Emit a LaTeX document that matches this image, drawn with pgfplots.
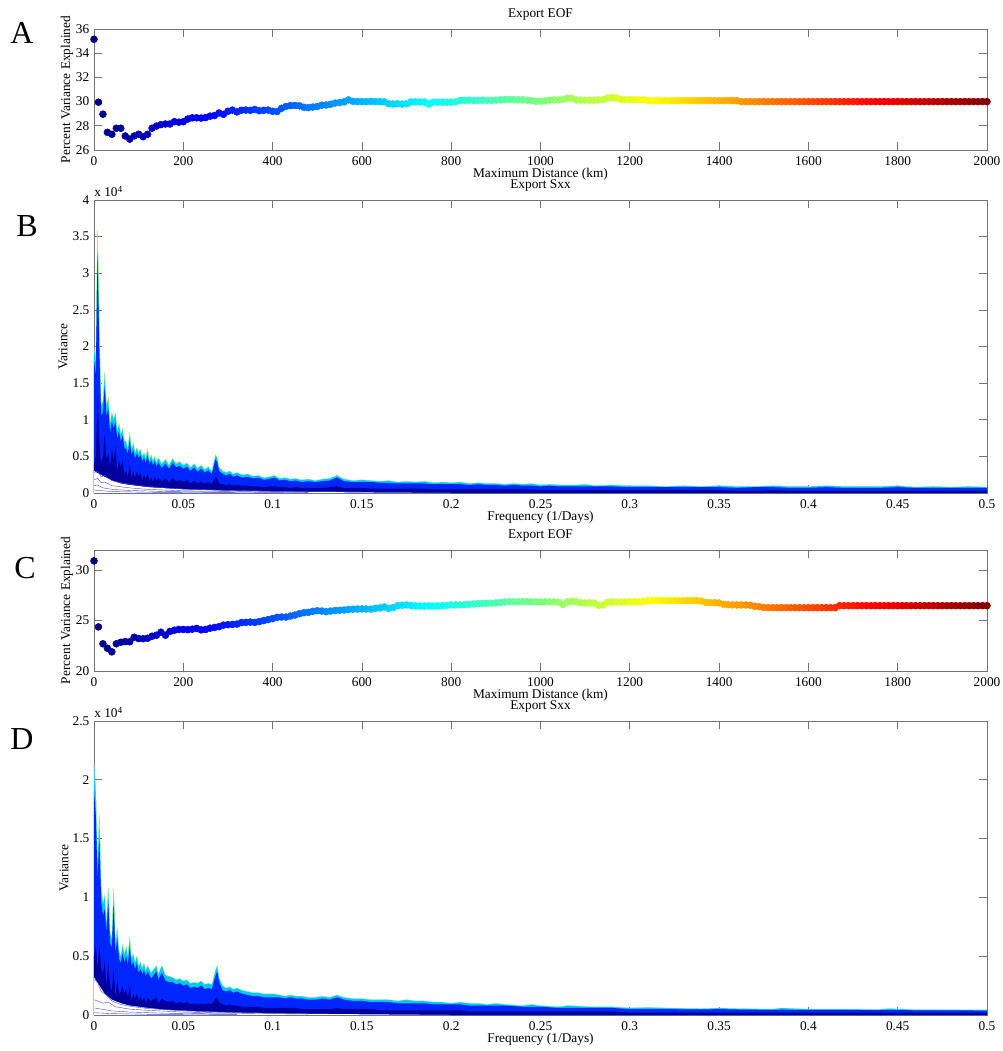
\documentclass[border=0pt]{standalone}
\usepackage{fontspec}
\setmainfont{Liberation Serif}
\usepackage{pgfplots}
\usepackage{pgfplotstable}
\pgfplotsset{compat=1.18}

\definecolor{axgray}{gray}{0.45}
\definecolor{rimcyan}{rgb}{0,0.78,1}
\definecolor{rimline}{rgb}{0.55,0.95,0.45}
\definecolor{bodyblue}{rgb}{0,0.15,1}
\definecolor{deepblue}{rgb}{0,0,0.62}
\definecolor{lineblue}{rgb}{0.3,0.3,0.75}

\newcommand{\tfont}{\fontsize{10}{12}\selectfont}

\pgfplotsset{
  matlab/.style={
    scale only axis, width=669.75pt,
    axis line style={axgray}, tick style={axgray, line width=0.5pt},
    major tick length=6pt, tick align=inside,
    tick label style={font=\tfont, black},
    /pgf/number format/assume math mode=true,
    /pgf/number format/1000 sep={},
    label style={font=\tfont},
    every axis title/.style={font=\tfont, at={(0.5,1)}, anchor=center, yshift=10.75pt},
    xlabel style={at={([yshift=-18pt]axis description cs:0.5,0)}, anchor=center},
    xticklabel style={yshift=-1.5pt},
    scaled ticks=false,
  },
  eof/.style={matlab, height=90.75pt, xmin=0, xmax=2000,
    xtick={0,200,...,2000}, clip=false,
    colormap/jet, point meta min=0, point meta max=2000,
    title={Export EOF}, xlabel={Maximum Distance (km)},
    ylabel={Percent Variance Explained},
    ylabel style={at={([xshift=-20.25pt]axis description cs:0,0.5)}, anchor=center}},
  sxx/.style={matlab, xmin=0, xmax=0.5, ymin=0,
    xtick={0,0.05,0.1,0.15,0.2,0.25,0.3,0.35,0.4,0.45,0.5},
    xticklabel style={/pgf/number format/fixed, /pgf/number format/precision=2},
    yticklabel style={/pgf/number format/fixed},
    title={Export Sxx}, xlabel={Frequency (1/Days)}, ylabel={Variance}},
  eofmark/.style={scatter, only marks, mark=*, mark size=2.6pt, point meta=x,
    scatter/use mapped color={draw=mapped color, fill=mapped color}},
}

% Panel A: percent variance vs maximum distance
\pgfplotstableread{
x y
0 35.15
10 29.95
20 28.96
30 27.46
40 27.30
50 27.80
60 27.80
70 27.16
80 26.90
90 27.16
100 27.30
110 27.10
120 27.30
130 27.80
140 27.98
150 28.10
160 28.15
170 28.15
180 28.34
190 28.30
200 28.34
210 28.56
220 28.66
230 28.66
240 28.64
250 28.68
260 28.80
270 28.85
280 29.06
290 28.95
300 29.20
310 29.30
320 29.15
330 29.28
340 29.30
350 29.28
360 29.35
370 29.25
380 29.28
390 29.30
400 29.20
410 29.18
420 29.45
430 29.60
440 29.67
450 29.68
460 29.65
470 29.53
480 29.50
490 29.55
500 29.60
510 29.70
520 29.72
530 29.78
540 29.88
550 29.92
560 29.98
570 30.14
580 30.02
590 30.00
600 30.00
610 30.00
620 30.02
630 30.00
640 30.00
650 29.98
660 29.82
670 29.80
680 29.82
690 29.80
700 29.82
710 29.97
720 29.98
730 29.97
740 29.96
750 29.80
760 29.95
770 29.95
780 29.96
790 29.95
800 29.96
810 29.98
820 30.10
830 30.10
840 30.12
850 30.10
860 30.10
870 30.12
880 30.10
890 30.10
900 30.12
910 30.14
920 30.16
930 30.18
940 30.16
950 30.15
960 30.14
970 30.12
980 30.08
990 30.03
1000 30.03
1010 30.06
1020 30.12
1030 30.14
1040 30.14
1050 30.18
1060 30.28
1070 30.26
1080 30.14
1090 30.12
1100 30.12
1110 30.12
1120 30.12
1130 30.14
1140 30.16
1150 30.30
1160 30.34
1170 30.30
1180 30.18
1190 30.16
1200 30.16
1210 30.15
1220 30.15
1230 30.16
1240 30.08
1250 30.08
1260 30.08
1270 30.09
1280 30.08
1290 30.08
1300 30.08
1310 30.08
1320 30.09
1330 30.08
1340 30.08
1350 30.08
1360 30.08
1370 30.09
1380 30.08
1390 30.08
1400 30.08
1410 30.08
1420 30.09
1430 30.08
1440 30.08
1450 30.00
1460 30.00
1470 30.00
1480 30.00
1490 30.00
1500 30.00
1510 30.00
1520 30.00
1530 30.00
1540 30.00
1550 30.00
1560 30.00
1570 30.00
1580 30.00
1590 30.00
1600 30.00
1610 30.00
1620 30.00
1630 30.00
1640 30.00
1650 30.00
1660 30.00
1670 30.00
1680 30.00
1690 30.00
1700 30.00
1710 30.00
1720 30.00
1730 30.00
1740 30.00
1750 30.00
1760 30.00
1770 30.00
1780 30.00
1790 30.00
1800 30.00
1810 30.00
1820 30.00
1830 30.00
1840 30.00
1850 30.00
1860 30.00
1870 30.00
1880 30.00
1890 30.00
1900 30.00
1910 30.00
1920 30.00
1930 30.00
1940 30.00
1950 30.00
1960 30.00
1970 30.00
1980 30.00
1990 30.00
2000 30.00
}\eofA

% Panel C
\pgfplotstableread{
x y
0 30.92
10 24.37
20 22.70
30 22.26
40 21.90
50 22.70
60 22.85
70 22.92
80 22.90
90 23.35
100 23.22
110 23.20
120 23.25
130 23.45
140 23.55
150 23.85
160 23.55
170 23.92
180 24.05
190 24.12
200 24.12
210 24.10
220 24.15
230 24.22
240 24.08
250 24.12
260 24.25
270 24.32
280 24.40
290 24.55
300 24.60
310 24.62
320 24.65
330 24.80
340 24.82
350 24.85
360 24.82
370 24.90
380 25.00
390 25.10
400 25.20
410 25.32
420 25.35
430 25.35
440 25.45
450 25.55
460 25.68
470 25.78
480 25.82
490 25.92
500 25.98
510 25.95
520 25.88
530 25.95
540 26.00
550 26.02
560 26.05
570 26.10
580 26.12
590 26.15
600 26.16
610 26.15
620 26.14
630 26.22
640 26.25
650 26.35
660 26.20
670 26.30
680 26.48
690 26.52
700 26.55
710 26.50
720 26.45
730 26.45
740 26.44
750 26.45
760 26.44
770 26.45
780 26.48
790 26.50
800 26.55
810 26.56
820 26.56
830 26.58
840 26.60
850 26.65
860 26.68
870 26.70
880 26.72
890 26.72
900 26.75
910 26.80
920 26.84
930 26.86
940 26.86
950 26.86
960 26.88
970 26.88
980 26.86
990 26.86
1000 26.86
1010 26.86
1020 26.86
1030 26.86
1040 26.84
1050 26.60
1060 26.86
1070 26.90
1080 26.88
1090 26.76
1100 26.75
1110 26.75
1120 26.74
1130 26.52
1140 26.55
1150 26.82
1160 26.84
1170 26.84
1180 26.84
1190 26.85
1200 26.86
1210 26.86
1220 26.86
1230 26.90
1240 26.96
1250 26.98
1260 26.98
1270 26.98
1280 26.98
1290 26.98
1300 26.98
1310 26.98
1320 26.97
1330 26.98
1340 26.98
1350 26.98
1360 26.94
1370 26.80
1380 26.78
1390 26.78
1400 26.75
1410 26.62
1420 26.58
1430 26.56
1440 26.55
1450 26.55
1460 26.55
1470 26.52
1480 26.42
1490 26.38
1500 26.30
1510 26.28
1520 26.28
1530 26.28
1540 26.28
1550 26.28
1560 26.28
1570 26.28
1580 26.28
1590 26.28
1600 26.28
1610 26.28
1620 26.28
1630 26.28
1640 26.28
1650 26.28
1660 26.28
1670 26.48
1680 26.48
1690 26.48
1700 26.48
1710 26.48
1720 26.48
1730 26.48
1740 26.48
1750 26.48
1760 26.48
1770 26.48
1780 26.48
1790 26.48
1800 26.48
1810 26.48
1820 26.48
1830 26.48
1840 26.48
1850 26.48
1860 26.48
1870 26.48
1880 26.48
1890 26.48
1900 26.48
1910 26.48
1920 26.48
1930 26.48
1940 26.48
1950 26.48
1960 26.48
1970 26.48
1980 26.48
1990 26.48
2000 26.48
}\eofC

% Panel B spectra (units of 1e4): envelope, inner blue band, dark core
\pgfplotstableread{
x top mid low
0 2.00 1.80 0.40
0.001 1.80 1.60 0.50
0.0015 2.70 2.45 0.90
0.002 3.58 3.30 1.40
0.0025 2.90 2.60 1.00
0.003 2.20 1.90 0.70
0.004 1.20 1.05 0.40
0.005 1.25 1.10 0.50
0.006 1.65 1.45 0.80
0.007 1.20 1.05 0.45
0.008 1.30 1.15 0.55
0.009 0.95 0.82 0.35
0.010 1.10 0.98 0.60
0.011 1.00 0.88 0.45
0.012 1.10 0.97 0.65
0.013 0.85 0.74 0.30
0.014 0.95 0.84 0.45
0.015 0.80 0.70 0.35
0.016 0.88 0.78 0.45
0.017 0.72 0.62 0.25
0.018 0.70 0.60 0.30
0.019 0.62 0.54 0.22
0.020 0.82 0.72 0.40
0.021 0.60 0.52 0.20
0.022 0.68 0.59 0.30
0.023 0.55 0.47 0.20
0.024 0.62 0.54 0.30
0.025 0.55 0.48 0.22
0.026 0.60 0.52 0.28
0.027 0.50 0.43 0.18
0.028 0.55 0.48 0.25
0.029 0.48 0.41 0.18
0.030 0.60 0.52 0.28
0.031 0.45 0.39 0.15
0.032 0.52 0.45 0.22
0.033 0.44 0.38 0.15
0.034 0.50 0.43 0.22
0.035 0.42 0.36 0.18
0.036 0.48 0.41 0.20
0.038 0.40 0.34 0.16
0.040 0.46 0.40 0.20
0.042 0.38 0.33 0.15
0.044 0.47 0.41 0.20
0.046 0.40 0.35 0.16
0.048 0.43 0.37 0.18
0.050 0.38 0.33 0.15
0.052 0.41 0.36 0.18
0.054 0.35 0.30 0.13
0.056 0.40 0.35 0.17
0.058 0.34 0.29 0.13
0.060 0.38 0.33 0.16
0.062 0.32 0.28 0.13
0.064 0.36 0.31 0.15
0.066 0.30 0.26 0.12
0.068 0.52 0.46 0.22
0.069 0.48 0.42 0.20
0.070 0.35 0.30 0.13
0.072 0.30 0.26 0.12
0.074 0.28 0.24 0.11
0.076 0.30 0.26 0.12
0.078 0.26 0.22 0.10
0.080 0.28 0.24 0.11
0.083 0.25 0.21 0.10
0.086 0.26 0.22 0.10
0.089 0.23 0.20 0.09
0.092 0.24 0.21 0.09
0.095 0.21 0.18 0.08
0.098 0.22 0.19 0.09
0.101 0.24 0.21 0.09
0.104 0.20 0.17 0.08
0.107 0.21 0.18 0.08
0.110 0.19 0.16 0.07
0.113 0.20 0.17 0.08
0.116 0.18 0.15 0.07
0.120 0.19 0.16 0.07
0.124 0.17 0.15 0.07
0.128 0.19 0.16 0.07
0.132 0.20 0.17 0.08
0.136 0.24 0.21 0.09
0.140 0.19 0.16 0.07
0.145 0.17 0.15 0.07
0.150 0.18 0.15 0.07
0.155 0.17 0.15 0.06
0.160 0.16 0.14 0.06
0.165 0.17 0.14 0.06
0.170 0.15 0.13 0.06
0.175 0.16 0.13 0.06
0.180 0.15 0.13 0.06
0.185 0.16 0.13 0.06
0.190 0.14 0.12 0.05
0.195 0.15 0.12 0.05
0.200 0.14 0.12 0.05
0.205 0.15 0.12 0.05
0.210 0.13 0.11 0.05
0.215 0.14 0.12 0.05
0.220 0.13 0.11 0.05
0.225 0.13 0.11 0.05
0.230 0.12 0.10 0.05
0.235 0.13 0.11 0.05
0.240 0.12 0.10 0.05
0.245 0.13 0.10 0.05
0.250 0.11 0.09 0.04
0.255 0.12 0.10 0.04
0.260 0.11 0.09 0.04
0.270 0.11 0.09 0.04
0.275 0.12 0.09 0.04
0.280 0.10 0.09 0.04
0.290 0.11 0.09 0.04
0.300 0.10 0.08 0.04
0.310 0.10 0.08 0.04
0.320 0.09 0.08 0.04
0.330 0.10 0.08 0.04
0.340 0.09 0.08 0.04
0.350 0.10 0.08 0.04
0.360 0.09 0.07 0.03
0.370 0.09 0.08 0.03
0.380 0.10 0.08 0.04
0.390 0.09 0.07 0.03
0.400 0.09 0.07 0.03
0.410 0.10 0.08 0.03
0.420 0.09 0.07 0.03
0.430 0.09 0.07 0.03
0.440 0.09 0.07 0.03
0.450 0.10 0.08 0.03
0.460 0.08 0.07 0.03
0.470 0.09 0.07 0.03
0.480 0.08 0.07 0.03
0.490 0.09 0.07 0.03
0.500 0.08 0.07 0.03
}\sxxB

% Panel D spectra (units of 1e4)
\pgfplotstableread{
x top mid low
0 2.15 1.90 0.50
0.001 1.90 1.70 0.60
0.002 1.30 1.15 0.40
0.003 1.70 1.50 0.60
0.004 1.10 0.97 0.40
0.005 0.95 0.84 0.35
0.006 1.02 0.90 0.45
0.007 0.80 0.70 0.25
0.008 1.08 0.95 0.45
0.009 0.70 0.61 0.25
0.010 0.65 0.57 0.20
0.011 1.07 0.95 0.40
0.012 0.60 0.52 0.15
0.013 0.74 0.65 0.30
0.014 0.55 0.48 0.18
0.015 0.50 0.44 0.20
0.016 0.60 0.52 0.25
0.017 0.52 0.45 0.18
0.018 0.58 0.50 0.22
0.019 0.50 0.43 0.15
0.020 0.66 0.58 0.25
0.021 0.48 0.42 0.12
0.022 0.52 0.45 0.18
0.023 0.45 0.39 0.14
0.024 0.50 0.44 0.18
0.025 0.42 0.36 0.12
0.026 0.45 0.39 0.16
0.027 0.40 0.35 0.12
0.028 0.44 0.38 0.15
0.029 0.38 0.33 0.10
0.030 0.42 0.37 0.15
0.032 0.36 0.31 0.12
0.034 0.40 0.35 0.14
0.035 0.42 0.37 0.15
0.036 0.35 0.30 0.10
0.038 0.42 0.36 0.14
0.040 0.34 0.29 0.12
0.042 0.33 0.28 0.11
0.044 0.32 0.28 0.12
0.046 0.30 0.26 0.10
0.048 0.31 0.27 0.11
0.050 0.29 0.25 0.10
0.052 0.30 0.26 0.11
0.054 0.27 0.23 0.09
0.056 0.28 0.24 0.10
0.058 0.27 0.23 0.09
0.060 0.29 0.25 0.10
0.062 0.26 0.22 0.09
0.064 0.27 0.23 0.10
0.066 0.26 0.22 0.09
0.068 0.38 0.33 0.14
0.069 0.42 0.37 0.15
0.070 0.32 0.28 0.11
0.072 0.25 0.21 0.09
0.074 0.23 0.20 0.08
0.076 0.24 0.21 0.09
0.078 0.22 0.19 0.08
0.080 0.23 0.20 0.08
0.083 0.21 0.18 0.07
0.086 0.20 0.17 0.07
0.089 0.19 0.16 0.07
0.092 0.19 0.16 0.07
0.095 0.18 0.15 0.06
0.098 0.18 0.15 0.06
0.101 0.18 0.15 0.06
0.104 0.17 0.15 0.06
0.107 0.16 0.14 0.06
0.110 0.17 0.15 0.06
0.113 0.16 0.14 0.06
0.116 0.16 0.14 0.05
0.120 0.15 0.13 0.05
0.124 0.15 0.13 0.05
0.128 0.16 0.14 0.05
0.132 0.15 0.13 0.05
0.136 0.17 0.15 0.06
0.140 0.15 0.13 0.05
0.145 0.14 0.12 0.05
0.150 0.14 0.12 0.05
0.155 0.13 0.11 0.05
0.160 0.13 0.11 0.04
0.165 0.13 0.11 0.04
0.170 0.12 0.10 0.04
0.175 0.13 0.10 0.04
0.180 0.12 0.10 0.04
0.185 0.12 0.10 0.04
0.190 0.11 0.09 0.04
0.195 0.11 0.09 0.04
0.200 0.10 0.09 0.04
0.205 0.11 0.09 0.04
0.210 0.10 0.08 0.03
0.215 0.10 0.08 0.03
0.220 0.09 0.08 0.03
0.225 0.10 0.08 0.03
0.230 0.09 0.08 0.03
0.240 0.08 0.07 0.03
0.245 0.09 0.07 0.03
0.250 0.08 0.07 0.03
0.260 0.07 0.06 0.03
0.265 0.08 0.06 0.03
0.280 0.07 0.06 0.03
0.290 0.07 0.06 0.03
0.300 0.06 0.05 0.02
0.310 0.065 0.05 0.02
0.320 0.06 0.05 0.02
0.340 0.055 0.047 0.02
0.350 0.06 0.05 0.02
0.360 0.055 0.047 0.02
0.380 0.05 0.043 0.02
0.385 0.06 0.045 0.02
0.400 0.05 0.043 0.02
0.420 0.05 0.043 0.02
0.440 0.048 0.041 0.02
0.445 0.055 0.043 0.02
0.460 0.046 0.040 0.02
0.480 0.045 0.039 0.02
0.500 0.044 0.038 0.02
}\sxxD

\begin{document}
\begin{tikzpicture}
\path[use as bounding box] (0,0) rectangle (752.25pt,-788.25pt);

% ---------- A ----------
\begin{axis}[eof, at={(70.5pt,-112.5pt)}, anchor=south west,
  ymin=26, ymax=36, ytick={26,28,...,36}]
\addplot[eofmark] table[x=x,y=y] {\eofA};
\end{axis}

% ---------- B ----------
\begin{axis}[sxx, at={(70.5pt,-369.75pt)}, anchor=south west, height=219.75pt,
  ymax=4, ytick={0,0.5,1,1.5,2,2.5,3,3.5,4},
  ylabel style={at={([xshift=-23.25pt]axis description cs:0,0.5)}, anchor=center}]
\addplot[fill=rimcyan, draw=none] table[x=x,y=top] {\sxxB} \closedcycle;
\addplot[rimline, line width=0.25pt] table[x=x,y=top] {\sxxB};
\addplot[fill=bodyblue, draw=none] table[x=x,y=mid] {\sxxB} \closedcycle;
\addplot[fill=deepblue, draw=none] table[x=x,y=low] {\sxxB} \closedcycle;
\addplot[fill=white, draw=none] coordinates {(0,0.30) (0.003,0.26) (0.006,0.22) (0.01,0.17) (0.015,0.13) (0.02,0.11) (0.03,0.08) (0.04,0.065) (0.05,0.05) (0.07,0.035) (0.1,0.02) (0.15,0.008) (0.2,0)} \closedcycle;
\addplot[lineblue, line width=0.3pt] coordinates {(0,0.28) (0.002,0.30) (0.004,0.22) (0.006,0.24) (0.01,0.17) (0.015,0.14) (0.02,0.12) (0.03,0.09) (0.04,0.07) (0.05,0.055) (0.07,0.04) (0.1,0.025) (0.15,0.015)};
\addplot[lineblue, line width=0.3pt] coordinates {(0,0.18) (0.002,0.20) (0.004,0.14) (0.006,0.15) (0.01,0.10) (0.015,0.085) (0.02,0.07) (0.03,0.05) (0.05,0.03) (0.08,0.02) (0.12,0.01)};
\addplot[lineblue, line width=0.3pt] coordinates {(0,0.10) (0.002,0.11) (0.005,0.07) (0.01,0.05) (0.02,0.035) (0.04,0.02) (0.07,0.012) (0.12,0.006)};
\addplot[lineblue, line width=0.3pt] coordinates {(0,0.04) (0.005,0.03) (0.01,0.02) (0.03,0.01) (0.08,0.004)};
\end{axis}
\node[anchor=south west, inner sep=0pt, font=\tfont] at (70.5pt,-148pt) {x 10\textsuperscript{4}};

% ---------- C ----------
\begin{axis}[eof, at={(70.5pt,-503.25pt)}, anchor=south west,
  ymin=20, ymax=32, ytick={20,25,30}]
\addplot[eofmark] table[x=x,y=y] {\eofC};
\end{axis}

% ---------- D ----------
\begin{axis}[sxx, at={(70.5pt,-761.25pt)}, anchor=south west, height=220.5pt,
  ymax=2.5, ytick={0,0.5,1,1.5,2,2.5},
  ylabel style={at={([xshift=-22.5pt]axis description cs:0,0.5)}, anchor=center}]
\addplot[fill=rimcyan, draw=none] table[x=x,y=top] {\sxxD} \closedcycle;
\addplot[rimline, line width=0.25pt] table[x=x,y=top] {\sxxD};
\addplot[fill=bodyblue, draw=none] table[x=x,y=mid] {\sxxD} \closedcycle;
\addplot[fill=deepblue, draw=none] table[x=x,y=low] {\sxxD} \closedcycle;
\addplot[fill=white, draw=none] coordinates {(0,0.32) (0.003,0.25) (0.006,0.18) (0.01,0.13) (0.015,0.10) (0.02,0.08) (0.03,0.06) (0.04,0.045) (0.06,0.03) (0.08,0.02) (0.12,0.01) (0.2,0)} \closedcycle;
\addplot[lineblue, line width=0.3pt] coordinates {(0,0.30) (0.002,0.28) (0.004,0.20) (0.007,0.17) (0.01,0.12) (0.015,0.09) (0.02,0.075) (0.03,0.055) (0.05,0.035) (0.08,0.02) (0.12,0.012)};
\addplot[lineblue, line width=0.3pt] coordinates {(0,0.13) (0.002,0.12) (0.005,0.10) (0.008,0.11) (0.012,0.07) (0.02,0.05) (0.03,0.04) (0.05,0.025) (0.08,0.015) (0.12,0.008)};
\addplot[lineblue, line width=0.3pt] coordinates {(0,0.06) (0.004,0.05) (0.01,0.035) (0.02,0.025) (0.04,0.015) (0.08,0.008)};
\addplot[lineblue, line width=0.3pt] coordinates {(0,0.02) (0.01,0.012) (0.03,0.006) (0.08,0.003)};
\end{axis}
\node[anchor=south west, inner sep=0pt, font=\tfont] at (70.5pt,-538.75pt) {x 10\textsuperscript{4}};

% panel letters
\node[font=\fontsize{24}{24}\selectfont] at (16.5pt,-24.75pt) {A};
\node[font=\fontsize{24}{24}\selectfont] at (20.25pt,-169.5pt) {B};
\node[font=\fontsize{24}{24}\selectfont] at (18.75pt,-426pt) {C};
\node[font=\fontsize{24}{24}\selectfont] at (16.5pt,-554.25pt) {D};
\end{tikzpicture}
\end{document}
